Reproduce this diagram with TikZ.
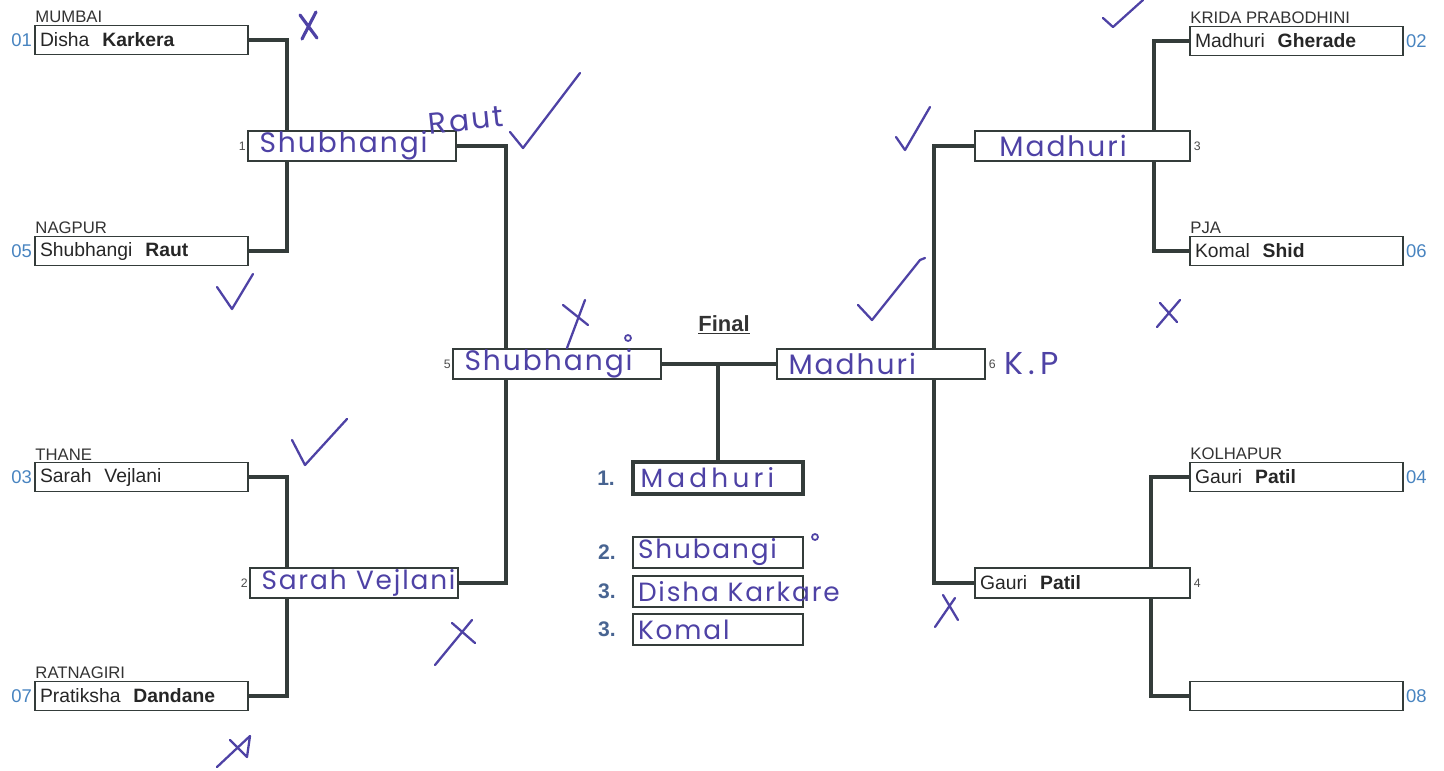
\documentclass[tikz,border=0pt]{standalone}
\usepackage{fontspec}
\setmainfont{Liberation Sans}
\newfontfamily\handfont{Poppins}[LetterSpace=7]
\newfontfamily\handwide{Poppins}[LetterSpace=16]
\usepackage{xcolor}
\usetikzlibrary{positioning}

\definecolor{ink}{RGB}{78,66,165}
\definecolor{seedblue}{RGB}{72,132,192}
\definecolor{linegray}{RGB}{52,60,58}
\definecolor{placeblue}{RGB}{72,100,145}

\begin{document}
\begin{tikzpicture}[
  x=0.02cm, y=-0.02cm,
  player/.style={rectangle, draw=linegray, line width=1.1pt, minimum width=4.26cm,
                 minimum height=0.58cm, text width=4.06cm, align=left, inner xsep=2pt,
                 inner ysep=0pt, font=\fontsize{11}{13}\selectfont, text=black!85},
  match/.style={rectangle, draw=linegray, line width=1.1pt, minimum width=4.16cm,
                minimum height=0.6cm, text width=3.7cm, align=left, inner xsep=6pt,
                inner ysep=0pt, font=\handfont\fontsize{16}{16}\selectfont, text=ink},
  winbox/.style={rectangle, draw=linegray, line width=2.3pt, minimum width=3.4cm,
                 minimum height=0.64cm, text width=3.1cm, align=left, inner xsep=4pt,
                 inner ysep=0pt, font=\handwide\fontsize{15}{16}\selectfont, text=ink},
  placebox/.style={rectangle, draw=linegray, line width=1.1pt, minimum width=3.4cm,
                   minimum height=0.62cm, text width=3.2cm, align=left, inner xsep=3pt,
                   inner ysep=0pt, font=\handfont\fontsize{15}{16}\selectfont, text=ink},
  city/.style={anchor=south west, inner sep=0.6pt, font=\fontsize{9.5}{10}\selectfont, text=black!80},
  seed/.style={inner sep=1pt, font=\fontsize{10.5}{12}\selectfont, text=seedblue},
  roundno/.style={inner sep=0.5pt, font=\fontsize{7}{8}\selectfont, text=black!70},
  placeno/.style={inner sep=1pt, font=\bfseries\fontsize{12}{14}\selectfont, text=placeblue},
  handtext/.style={inner sep=0pt, font=\handfont\fontsize{17}{18}\selectfont, text=ink},
  bracket/.style={draw=linegray, line width=2.3pt},
  handline/.style={draw=ink, line width=1.3pt, line cap=round, line join=round},
]
\useasboundingbox (0,0) rectangle (1444,771);

% first round, left
\node[player] (p01) at (141.5,40) {Disha \ \textbf{Karkera}};
\node[player] (p05) at (141.5,251) {Shubhangi \ \textbf{Raut}};
\node[player] (p03) at (141.5,477) {Sarah \ Vejlani};
\node[player] (p07) at (141.5,696) {Pratiksha \ \textbf{Dandane}};

% first round, right
\node[player] (p02) at (1296.5,41) {Madhuri \ \textbf{Gherade}};
\node[player] (p06) at (1296.5,251) {Komal \ \textbf{Shid}};
\node[player] (p04) at (1296.5,477) {Gauri \ \textbf{Patil}};
\node[player] (p08) at (1296.5,696) {};

% cities
\node[city] (c01) at (p01.north west) {MUMBAI};
\node[city] (c05) at (p05.north west) {NAGPUR};
\node[city] (c03) at (p03.north west) {THANE};
\node[city] (c07) at (p07.north west) {RATNAGIRI};
\node[city] (c02) at (p02.north west) {KRIDA PRABODHINI};
\node[city] (c06) at (p06.north west) {PJA};
\node[city] (c04) at (p04.north west) {KOLHAPUR};

% seeds
\node[seed, left=0pt of p01] (s01) {01};
\node[seed, left=0pt of p05] (s05) {05};
\node[seed, left=0pt of p03] (s03) {03};
\node[seed, left=0pt of p07] (s07) {07};
\node[seed, right=0pt of p02] (s02) {02};
\node[seed, right=0pt of p06] (s06) {06};
\node[seed, right=0pt of p04] (s04) {04};
\node[seed, right=0pt of p08] (s08) {08};

% matches
\node[match] (m1) at (352,146) {Shubhangi};
\node[match] (m2) at (354,583) {\mbox{\fontsize{15}{16}\selectfont Sarah Vejlani}};
\node[match] (m5) at (557,364) {Shubhangi};
\node[match] (m6) at (881,364) {Madhuri};
\node[match, minimum width=4.3cm] (m3) at (1082.5,146) {\ Madhuri};
\node[match, minimum width=4.3cm, font=\fontsize{11}{13}\selectfont, text=black!85, inner xsep=2pt,
  text width=4.1cm] (m4) at (1082.5,583) {Gauri \ \textbf{Patil}};

\node[roundno, left=0pt of m1] (n1) {1};
\node[roundno, left=0pt of m2] (n2) {2};
\node[roundno, left=0pt of m5] (n5) {5};
\node[roundno, right=1pt of m6] (n6) {6};
\node[roundno, right=1pt of m3] (n3) {3};
\node[roundno, right=1pt of m4] (n4) {4};

% final
\node[font=\bfseries\fontsize{12.5}{14}\selectfont, text=black!80] (final) at (724,325) {\underline{Final}};
\node[winbox] (winner) at (718,478) {Madhuri};
\node[placebox] (second) at (718,552.5) {Shubangi};
\node[placebox] (thirdA) at (718,591.5) {\mbox{Disha Karkare}};
\node[placebox] (thirdB) at (718,629.5) {Komal};
\node[placeno, left=8pt of winner] (pl1) {1.};
\node[placeno, left=8pt of second] (pl2) {2.};
\node[placeno, left=8pt of thirdA] (pl3a) {3.};
\node[placeno, left=8pt of thirdB] (pl3b) {3.};

% bracket lines
\draw[bracket] (p01.east) -| ([xshift=0.8cm]m1.north west);
\draw[bracket] (p05.east) -| ([xshift=0.8cm]m1.south west);
\draw[bracket] (p03.east) -| ([xshift=0.76cm]m2.north west);
\draw[bracket] (p07.east) -| ([xshift=0.76cm]m2.south west);
\draw[bracket] (m1.east) -| ([xshift=1.08cm]m5.north west);
\draw[bracket] (m2.east) -| ([xshift=1.08cm]m5.south west);
\draw[bracket] (p02.west) -| ([xshift=-0.74cm]m3.north east);
\draw[bracket] (p06.west) -| ([xshift=-0.74cm]m3.south east);
\draw[bracket] (p04.west) -| ([xshift=-0.8cm]m4.north east);
\draw[bracket] (p08.west) -| ([xshift=-0.8cm]m4.south east);
\draw[bracket] (m3.west) -| ([xshift=-1.04cm]m6.north east);
\draw[bracket] (m4.west) -| ([xshift=-1.04cm]m6.south east);
\draw[bracket] (m5.east) -- (m6.west);
\draw[bracket] (winner.north) -- (winner.north |- m5.east);

% handwritten notes
\node[handtext, rotate=6] (raut) at (466,120) {Raut};
\node[handtext, right=4pt of n6, font=\handwide\fontsize{18}{18}\selectfont] (kp) {K.P};

% ticks
\draw[handline] (510,132) -- (523,148) -- (580,73);
\draw[handline] (217,287) -- (232,309) -- (253,274);
\draw[handline] (292,440) -- (305,465) -- (347,419);
\draw[handline] (858,305) -- (872,320) -- (920,260) -- (925,258);
\draw[handline] (896,137) -- (905,150) -- (930,107);
\draw[handline] (1103,18) -- (1113,27) -- (1143,0);

% crosses
\draw[handline, line width=1.8pt] (300,15) -- (317,38) (316,12) -- (302,39);
\draw[handline] (585,300) -- (567,348) (563,305) -- (588,325);
\draw[handline] (435,665) -- (472,620) (452,623) -- (475,643);
\draw[handline] (217,767) -- (250,736) -- (247,757) -- (230,740);
\draw[handline] (1160,303) -- (1177,322) (1180,300) -- (1157,327);
\draw[handline] (943,595) -- (958,620) (955,598) -- (935,627);
\draw[handline, line width=1pt] (628,338) circle (3);
\draw[handline, line width=1pt] (815,537) circle (3);

\end{tikzpicture}
\end{document}
